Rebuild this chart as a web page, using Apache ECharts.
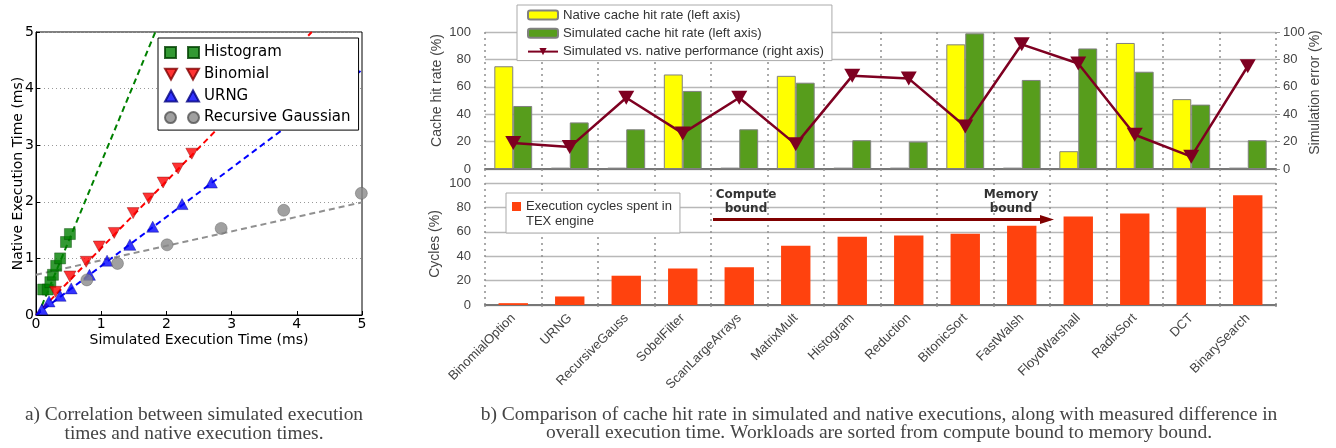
<!DOCTYPE html>
<html><head><meta charset="utf-8">
<script src="https://cdn.jsdelivr.net/npm/echarts@6/dist/echarts.min.js"></script>
<style>html,body{margin:0;padding:0;background:#fff}#c{width:1336px;height:448px}</style>
</head><body><div id="c"></div>
<script>
// ---- panel a) scatter data ----
const histX = [0.11, 0.18, 0.22, 0.26, 0.31, 0.37, 0.46, 0.52];
const histY = [0.45, 0.45, 0.58, 0.71, 0.87, 1.00, 1.29, 1.43];
const binX = [0.30, 0.52, 0.77, 0.97, 1.20, 1.49, 1.73, 1.95, 2.18, 2.39];
const binY = [0.41, 0.68, 0.94, 1.21, 1.45, 1.80, 2.06, 2.34, 2.59, 2.85];
const urngX = [0.09, 0.20, 0.37, 0.54, 0.82, 1.09, 1.44, 1.79, 2.24, 2.69];
const urngY = [0.10, 0.24, 0.34, 0.47, 0.71, 0.96, 1.24, 1.56, 1.96, 2.34];
const gaussX = [0.78, 1.25, 2.01, 2.84, 3.80, 4.99];
const gaussY = [0.62, 0.91, 1.24, 1.53, 1.85, 2.15];
// fitted trend lines (end points)
const histFitX = [0.03, 1.83], histFitY = [0, 5];
const binFitX = [0, 4.23], binFitY = [0, 5];
const urngFitX = [0, 5], urngFitY = [0, 4.33];
const gaussFitX = [0, 5], gaussFitY = [0.71, 1.99];
const scatterTicks = [0, 1, 2, 3, 4, 5];

// ---- panel b) data ----
const categories = ['BinomialOption','URNG','RecursiveGauss','SobelFilter','ScanLargeArrays','MatrixMult','Histogram','Reduction','BitonicSort','FastWalsh','FloydWarshall','RadixSort','DCT','BinarySearch'];
const nativeHit = [75, 1, 1, 69, 1, 68, 1, 1, 91, 1, 13, 92, 51, 1];
const simHit = [46, 34, 29, 57, 29, 63, 21, 20, 99, 65, 88, 71, 47, 21];
const simError = [19, 16, 52, 26, 52, 18, 68, 66, 31, 91, 77, 25, 9, 75];
const texCycles = [1.5, 7, 24, 30, 31, 48.5, 56, 57, 58.5, 65, 72.5, 75, 80, 90];
const pctTicks = [0, 20, 40, 60, 80, 100];

const zip = (a, b) => a.map((v, i) => [v, b[i]]);
const MPL = '"DejaVu Sans"';
const OO = '"Liberation Sans", Arial, sans-serif';

const chart = echarts.init(document.getElementById('c'), null, {renderer: 'canvas'});

const dotted = {color: '#8f8f8f', width: 1.5, type: [2, 4]};

const option = {
  animation: false,
  backgroundColor: '#fff',
  grid: [
    {left: 36, top: 32, width: 326, height: 283, show: true, borderColor: '#000', borderWidth: 1, backgroundColor: 'transparent'},
    {left: 485, top: 32, width: 791, height: 137},
    {left: 485, top: 183, width: 791, height: 122}
  ],
  xAxis: [
    {gridIndex: 0, type: 'value', min: scatterTicks[0], max: scatterTicks[scatterTicks.length - 1], interval: 1,
     axisLine: {lineStyle: {color: '#000', width: 1}}, axisTick: {inside: true, length: 4, lineStyle: {color: '#000'}},
     splitLine: {show: false},
     axisLabel: {color: '#000', fontFamily: MPL, fontSize: 14, margin: 2},
     name: 'Simulated Execution Time (ms)', nameLocation: 'middle', nameGap: 18, nameMoveOverlap: false,
     nameTextStyle: {color: '#000', fontFamily: MPL, fontSize: 14}},
    {gridIndex: 1, type: 'category', data: categories, boundaryGap: true,
     axisLine: {lineStyle: {color: '#777', width: 2}},
     axisTick: {show: true, interval: 0, length: 12, lineStyle: dotted},
     axisLabel: {show: false},
     splitLine: {show: true, interval: 0, lineStyle: dotted}},
    {gridIndex: 2, type: 'category', data: categories, boundaryGap: true,
     axisLine: {lineStyle: {color: '#777', width: 2}},
     axisTick: {show: true, interval: 0, length: 6, lineStyle: dotted},
     axisLabel: {interval: 0, rotate: 45, margin: 11, color: '#444', fontFamily: OO, fontSize: 13},
     splitLine: {show: true, interval: 0, lineStyle: dotted}}
  ],
  yAxis: [
    {gridIndex: 0, type: 'value', min: scatterTicks[0], max: scatterTicks[scatterTicks.length - 1], interval: 1,
     axisLine: {lineStyle: {color: '#000', width: 1}}, axisTick: {inside: true, length: 4, lineStyle: {color: '#000'}},
     splitLine: {show: true, lineStyle: {color: '#999', width: 1, type: [1, 3]}},
     axisLabel: {color: '#000', fontFamily: MPL, fontSize: 14, margin: 2},
     name: 'Native Execution Time (ms)', nameLocation: 'middle', nameGap: 11, nameRotate: 90, nameMoveOverlap: false,
     nameTextStyle: {color: '#000', fontFamily: MPL, fontSize: 14}},
    {gridIndex: 1, type: 'value', position: 'left', min: pctTicks[0], max: pctTicks[5], interval: 20,
     axisLine: {show: false}, axisTick: {show: false},
     splitLine: {show: true, lineStyle: {color: '#b8b8b8', width: 1.3}},
     axisLabel: {color: '#444', fontFamily: OO, fontSize: 13, margin: 14},
     name: 'Cache hit rate (%)', nameLocation: 'middle', nameGap: 41, nameRotate: 90, nameMoveOverlap: false,
     nameTextStyle: {color: '#444', fontFamily: OO, fontSize: 14, padding: [0, 0, 0, 20]}},
    {gridIndex: 1, type: 'value', position: 'right', min: pctTicks[0], max: pctTicks[5], interval: 20,
     axisLine: {show: false}, axisTick: {show: true, length: 4, lineStyle: {color: '#999'}},
     splitLine: {show: false},
     axisLabel: {color: '#444', fontFamily: OO, fontSize: 13, margin: 7},
     name: 'Simulation error (%)', nameLocation: 'middle', nameGap: 32, nameRotate: 90, nameMoveOverlap: false,
     nameTextStyle: {color: '#444', fontFamily: OO, fontSize: 14, padding: [0, 0, 0, 16]}},
    {gridIndex: 2, type: 'value', min: pctTicks[0], max: pctTicks[5], interval: 20,
     axisLine: {show: false}, axisTick: {show: false},
     splitLine: {show: true, lineStyle: {color: '#b8b8b8', width: 1.3}},
     axisLabel: {color: '#444', fontFamily: OO, fontSize: 13, margin: 14},
     name: 'Cycles (%)', nameLocation: 'middle', nameGap: 43, nameRotate: 90, nameMoveOverlap: false,
     nameTextStyle: {color: '#444', fontFamily: OO, fontSize: 14}}
  ],
  legend: [
    {orient: 'vertical', left: 158, top: 38, padding: [6, 8, 4, 6], itemWidth: 34, itemHeight: 11, itemGap: 4.7,
     backgroundColor: '#fff', borderColor: '#000', borderWidth: 1, borderRadius: 0, selectedMode: false,
     textStyle: {color: '#000', fontFamily: MPL, fontSize: 15, lineHeight: 17},
     data: [
       {name: 'Histogram', icon: 'path://M0,0h11v11h-11zM23,0h11v11h-11z'},
       {name: 'Binomial', icon: 'path://M0,0L12,0L6,11ZM22,0L34,0L28,11Z'},
       {name: 'URNG', icon: 'path://M0,11L12,11L6,0ZM22,11L34,11L28,0Z'},
       {name: 'Recursive Gaussian', icon: 'path://M0,5.5A5.5,5.5,0,1,1,11,5.5A5.5,5.5,0,1,1,0,5.5ZM23,5.5A5.5,5.5,0,1,1,34,5.5A5.5,5.5,0,1,1,23,5.5Z'}
     ]},
    {orient: 'vertical', left: 517, top: 5, padding: [3, 8, 2, 10], itemWidth: 30, itemHeight: 9, itemGap: 4.3,
     backgroundColor: '#fff', borderColor: '#aaa', borderWidth: 1, selectedMode: false,
     textStyle: {color: '#333', fontFamily: OO, fontSize: 13.2, lineHeight: 14},
     data: ['Native cache hit rate (left axis)', 'Simulated cache hit rate (left axis)', 'Simulated vs. native performance (right axis)']},
    {orient: 'vertical', left: 506, top: 193, padding: [6, 8, 4, 6], itemWidth: 9, itemHeight: 24, itemGap: 0,
     backgroundColor: '#fff', borderColor: '#aaa', borderWidth: 1, selectedMode: false,
     textStyle: {color: '#333', fontFamily: OO, fontSize: 13, lineHeight: 15},
     data: [{name: 'Execution cycles spent in\nTEX engine', icon: 'path://M0,0h9v9h-9zM0,24h0.01v0.01h-0.01z'}]}
  ],
  series: [
    // fit lines
    {name: 'fitHist', type: 'line', xAxisIndex: 0, yAxisIndex: 0, data: zip(histFitX, histFitY), showSymbol: false, clip: true, silent: true,
     lineStyle: {color: '#008000', width: 2, type: [6, 4]}, z: 1},
    {name: 'fitBin', type: 'line', xAxisIndex: 0, yAxisIndex: 0, data: zip(binFitX, binFitY), showSymbol: false, clip: true, silent: true,
     lineStyle: {color: '#ff0000', width: 2, type: [6, 4]}, z: 1},
    {name: 'fitUrng', type: 'line', xAxisIndex: 0, yAxisIndex: 0, data: zip(urngFitX, urngFitY), showSymbol: false, clip: true, silent: true,
     lineStyle: {color: '#0000ff', width: 2, type: [6, 4]}, z: 1},
    {name: 'fitGauss', type: 'line', xAxisIndex: 0, yAxisIndex: 0, data: zip(gaussFitX, gaussFitY), showSymbol: false, clip: true, silent: true,
     lineStyle: {color: '#909090', width: 2, type: [6, 4]}, z: 1},
    // scatter points
    {name: 'Histogram', type: 'scatter', xAxisIndex: 0, yAxisIndex: 0, data: zip(histX, histY), symbol: 'rect', symbolSize: 11,
     itemStyle: {color: '#008000', borderColor: '#004000', borderWidth: 0.5}, z: 3},
    {name: 'Binomial', type: 'scatter', xAxisIndex: 0, yAxisIndex: 0, data: zip(binX, binY), symbol: 'triangle', symbolRotate: 180, symbolSize: [12, 11],
     itemStyle: {color: '#ff0000', borderColor: '#800000', borderWidth: 0.5}, z: 3},
    {name: 'URNG', type: 'scatter', xAxisIndex: 0, yAxisIndex: 0, data: zip(urngX, urngY), symbol: 'triangle', symbolSize: [12, 11],
     itemStyle: {color: '#0000ff', borderColor: '#000080', borderWidth: 0.5}, z: 3},
    {name: 'Recursive Gaussian', type: 'scatter', xAxisIndex: 0, yAxisIndex: 0, data: zip(gaussX, gaussY), symbol: 'circle', symbolSize: 12,
     itemStyle: {color: '#888888', borderColor: '#555', borderWidth: 0.5}, z: 3},
    // top panel bars
    {name: 'Native cache hit rate (left axis)', type: 'bar', xAxisIndex: 1, yAxisIndex: 1, data: nativeHit,
     barGap: '0%', barCategoryGap: '33%', itemStyle: {color: '#ffff00', borderColor: '#808080', borderWidth: 1}},
    {name: 'Simulated cache hit rate (left axis)', type: 'bar', xAxisIndex: 1, yAxisIndex: 1, data: simHit,
     barGap: '0%', barCategoryGap: '33%', itemStyle: {color: '#579d1c', borderColor: '#808080', borderWidth: 1}},
    {name: 'Simulated vs. native performance (right axis)', type: 'line', xAxisIndex: 1, yAxisIndex: 2, data: simError,
     symbol: 'triangle', symbolRotate: 180, symbolSize: [16, 14], showSymbol: true,
     lineStyle: {color: '#7e0021', width: 2.5}, itemStyle: {color: '#7e0021'}, z: 5},
    // bottom panel bars
    {name: 'Execution cycles spent in\nTEX engine', type: 'bar', xAxisIndex: 2, yAxisIndex: 3, data: texCycles,
     barCategoryGap: '48%', itemStyle: {color: '#ff420e'}}
  ],
  graphic: [
    {type: 'text', x: 746, y: 202, z: 100, style: {text: 'Compute\nbound', textAlign: 'center', textVerticalAlign: 'middle',
      font: 'bold 12px "DejaVu Sans"', fill: '#333', lineHeight: 14}},
    {type: 'text', x: 1011, y: 202, z: 100, style: {text: 'Memory\nbound', textAlign: 'center', textVerticalAlign: 'middle',
      font: 'bold 12px "DejaVu Sans"', fill: '#333', lineHeight: 14}},
    {type: 'line', z: 100, shape: {x1: 713, y1: 219.5, x2: 1044, y2: 219.5}, style: {stroke: '#800000', lineWidth: 3}},
    {type: 'polygon', z: 100, shape: {points: [[1040, 215], [1054, 219.5], [1040, 224]]}, style: {fill: '#800000'}},
    {type: 'text', x: 194, y: 424, style: {text: 'a) Correlation between simulated execution\ntimes and native execution times.',
      textAlign: 'center', textVerticalAlign: 'middle', font: '19.4px "Liberation Serif"', fill: '#444', lineHeight: 19}},
    {type: 'text', x: 879, y: 423.5, style: {text: 'b) Comparison of cache hit rate in simulated and native executions, along with measured difference in\noverall execution time. Workloads are sorted from compute bound to memory bound.',
      textAlign: 'center', textVerticalAlign: 'middle', font: '19.5px "Liberation Serif"', fill: '#444', lineHeight: 18}}
  ]
};
chart.setOption(option);
</script>
</body></html>
